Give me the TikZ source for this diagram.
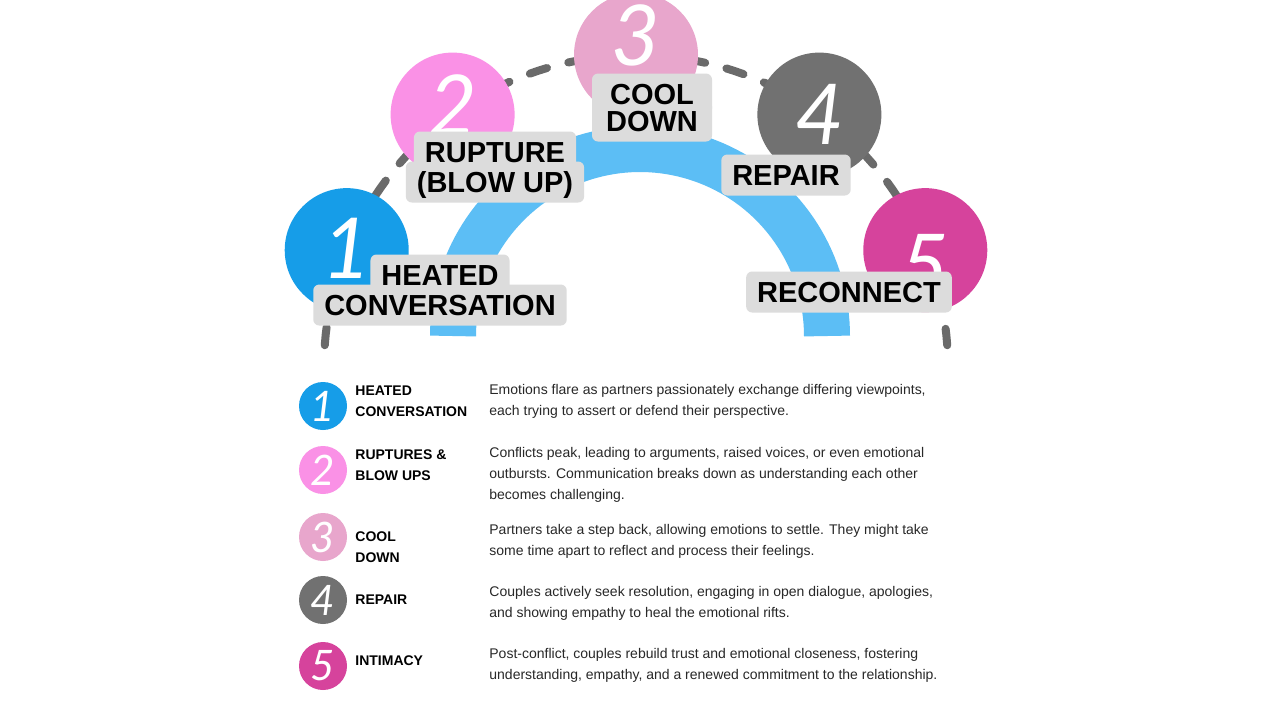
\documentclass[tikz,border=0pt]{standalone}
\usepackage{fontspec}
\setmainfont{Liberation Sans}
\newfontfamily\chiffre{Lato}

\definecolor{bleu}{RGB}{22,157,232}
\definecolor{bleuclair}{RGB}{92,190,245}
\definecolor{rose}{RGB}{250,145,230}
\definecolor{vieuxrose}{RGB}{232,166,204}
\definecolor{grisfonce}{RGB}{113,113,113}
\definecolor{fuchsia}{RGB}{214,67,156}
\definecolor{gristrait}{RGB}{106,106,106}
\definecolor{fond}{RGB}{220,220,220}
\definecolor{texte}{RGB}{40,40,40}

\tikzset{pastille/.style = {circle, minimum size = #1, inner sep = 0pt, text = white},
         pastille/.default = 62pt,
         etiquette/.style = {rounded corners = 3pt, inner xsep = 5.5pt, inner ysep = 5pt,
                             text height = 10.5pt, text depth = 0pt,
                             font = \fontsize{14.5}{14}\selectfont\bfseries},
         titre/.style = {anchor = west, align = left, inner sep = 0pt,
                         font = \fontsize{7}{10.5}\selectfont\bfseries},
         legende/.style = {anchor = west, align = left, inner sep = 0pt, text = texte,
                           font = \fontsize{7}{10.5}\selectfont}
        }

\begin{document}
\begin{tikzpicture}[x=0.5pt, y=-0.5pt]
  \fill[white] (0, 0) rectangle (1280, 720);
  \clip (0, 0) rectangle (1280, 720);
  \draw[gristrait, line width = 4pt, line cap = round, dash pattern = on 9pt off 11pt]
    plot[domain = 176:4, samples = 90] ({636 + 312*cos(\x)}, {367 - 312*sin(\x)});
  \draw[bleuclair, line width = 23pt]
    plot[domain = 180:0, samples = 90] ({640 + 187*cos(\x)}, {336 - 187*sin(\x)});
  \foreach \i/\a/\c/\d in {1/158/bleu/-2, 2/126/rose/-10, 3/90/vieuxrose/-20, 4/54/grisfonce/0, 5/22/fuchsia/15}
      {\node[pastille, fill = \c] (c\i) at ({636 + 312*cos(\a)}, {367 - 312*sin(\a)}) {};
       \path (c\i) ++(0, \d) node[text = white, font = \chiffre\itshape\fontsize{42}{42}\selectfont] (n\i) {\i};};
  % fonds gris d'abord, textes ensuite
  \foreach \x/\y/\t/\w in {440/275/HEATED/0, 440/305/CONVERSATION/0, 495/152/RUPTURE/0, 495/182/(BLOW UP)/0,
                           652/94/COOL/60, 652/121/DOWN/60, 786/175/REPAIR/0, 849/292/RECONNECT/0}
      {\node[etiquette, fill = fond, minimum width = \w pt] at (\x, \y) {\phantom{\t}};};
  \node[etiquette] (heated) at (440, 275) {HEATED};
  \node[etiquette] (conversation) at (440, 305) {CONVERSATION};
  \node[etiquette] (rupture) at (495, 152) {RUPTURE};
  \node[etiquette] (blowup) at (495, 182) {(BLOW UP)};
  \node[etiquette] (cool) at (652, 94) {COOL};
  \node[etiquette] (down) at (652, 121) {DOWN};
  \node[etiquette] (repair) at (786, 175) {REPAIR};
  \node[etiquette] (reconnect) at (849, 292) {RECONNECT};
  \foreach \i/\y/\c in {1/406/bleu, 2/470/rose, 3/537/vieuxrose, 4/600/grisfonce, 5/666/fuchsia}
      {\node[pastille = 24pt, fill = \c, font = \chiffre\itshape\fontsize{21}{21}\selectfont]
         (p\i) at (323, \y) {\i};};
  \node[titre] (t1) at (355, 401.5) {HEATED\\CONVERSATION};
  \node[titre] (t2) at (355, 465.5) {RUPTURES \&\\BLOW UPS};
  \node[titre] (t3) at (355, 547.5) {COOL\\DOWN};
  \node[titre] (t4) at (355, 600) {REPAIR};
  \node[titre] (t5) at (355, 661) {INTIMACY};
  \node[legende] (d1) at (489, 401.5) {Emotions flare as partners passionately exchange differing viewpoints,\\
    each trying to assert or defend their perspective.};
  \node[legende] (d2) at (489, 475) {Conflicts peak, leading to arguments, raised voices, or even emotional\\
    outbursts. Communication breaks down as understanding each other\\becomes challenging.};
  \node[legende] (d3) at (489, 541.5) {Partners take a step back, allowing emotions to settle. They might take\\
    some time apart to reflect and process their feelings.};
  \node[legende] (d4) at (489, 603.5) {Couples actively seek resolution, engaging in open dialogue, apologies,\\
    and showing empathy to heal the emotional rifts.};
  \node[legende] (d5) at (489, 665.5) {Post-conflict, couples rebuild trust and emotional closeness, fostering\\
    understanding, empathy, and a renewed commitment to the relationship.};
\end{tikzpicture}
\end{document}
